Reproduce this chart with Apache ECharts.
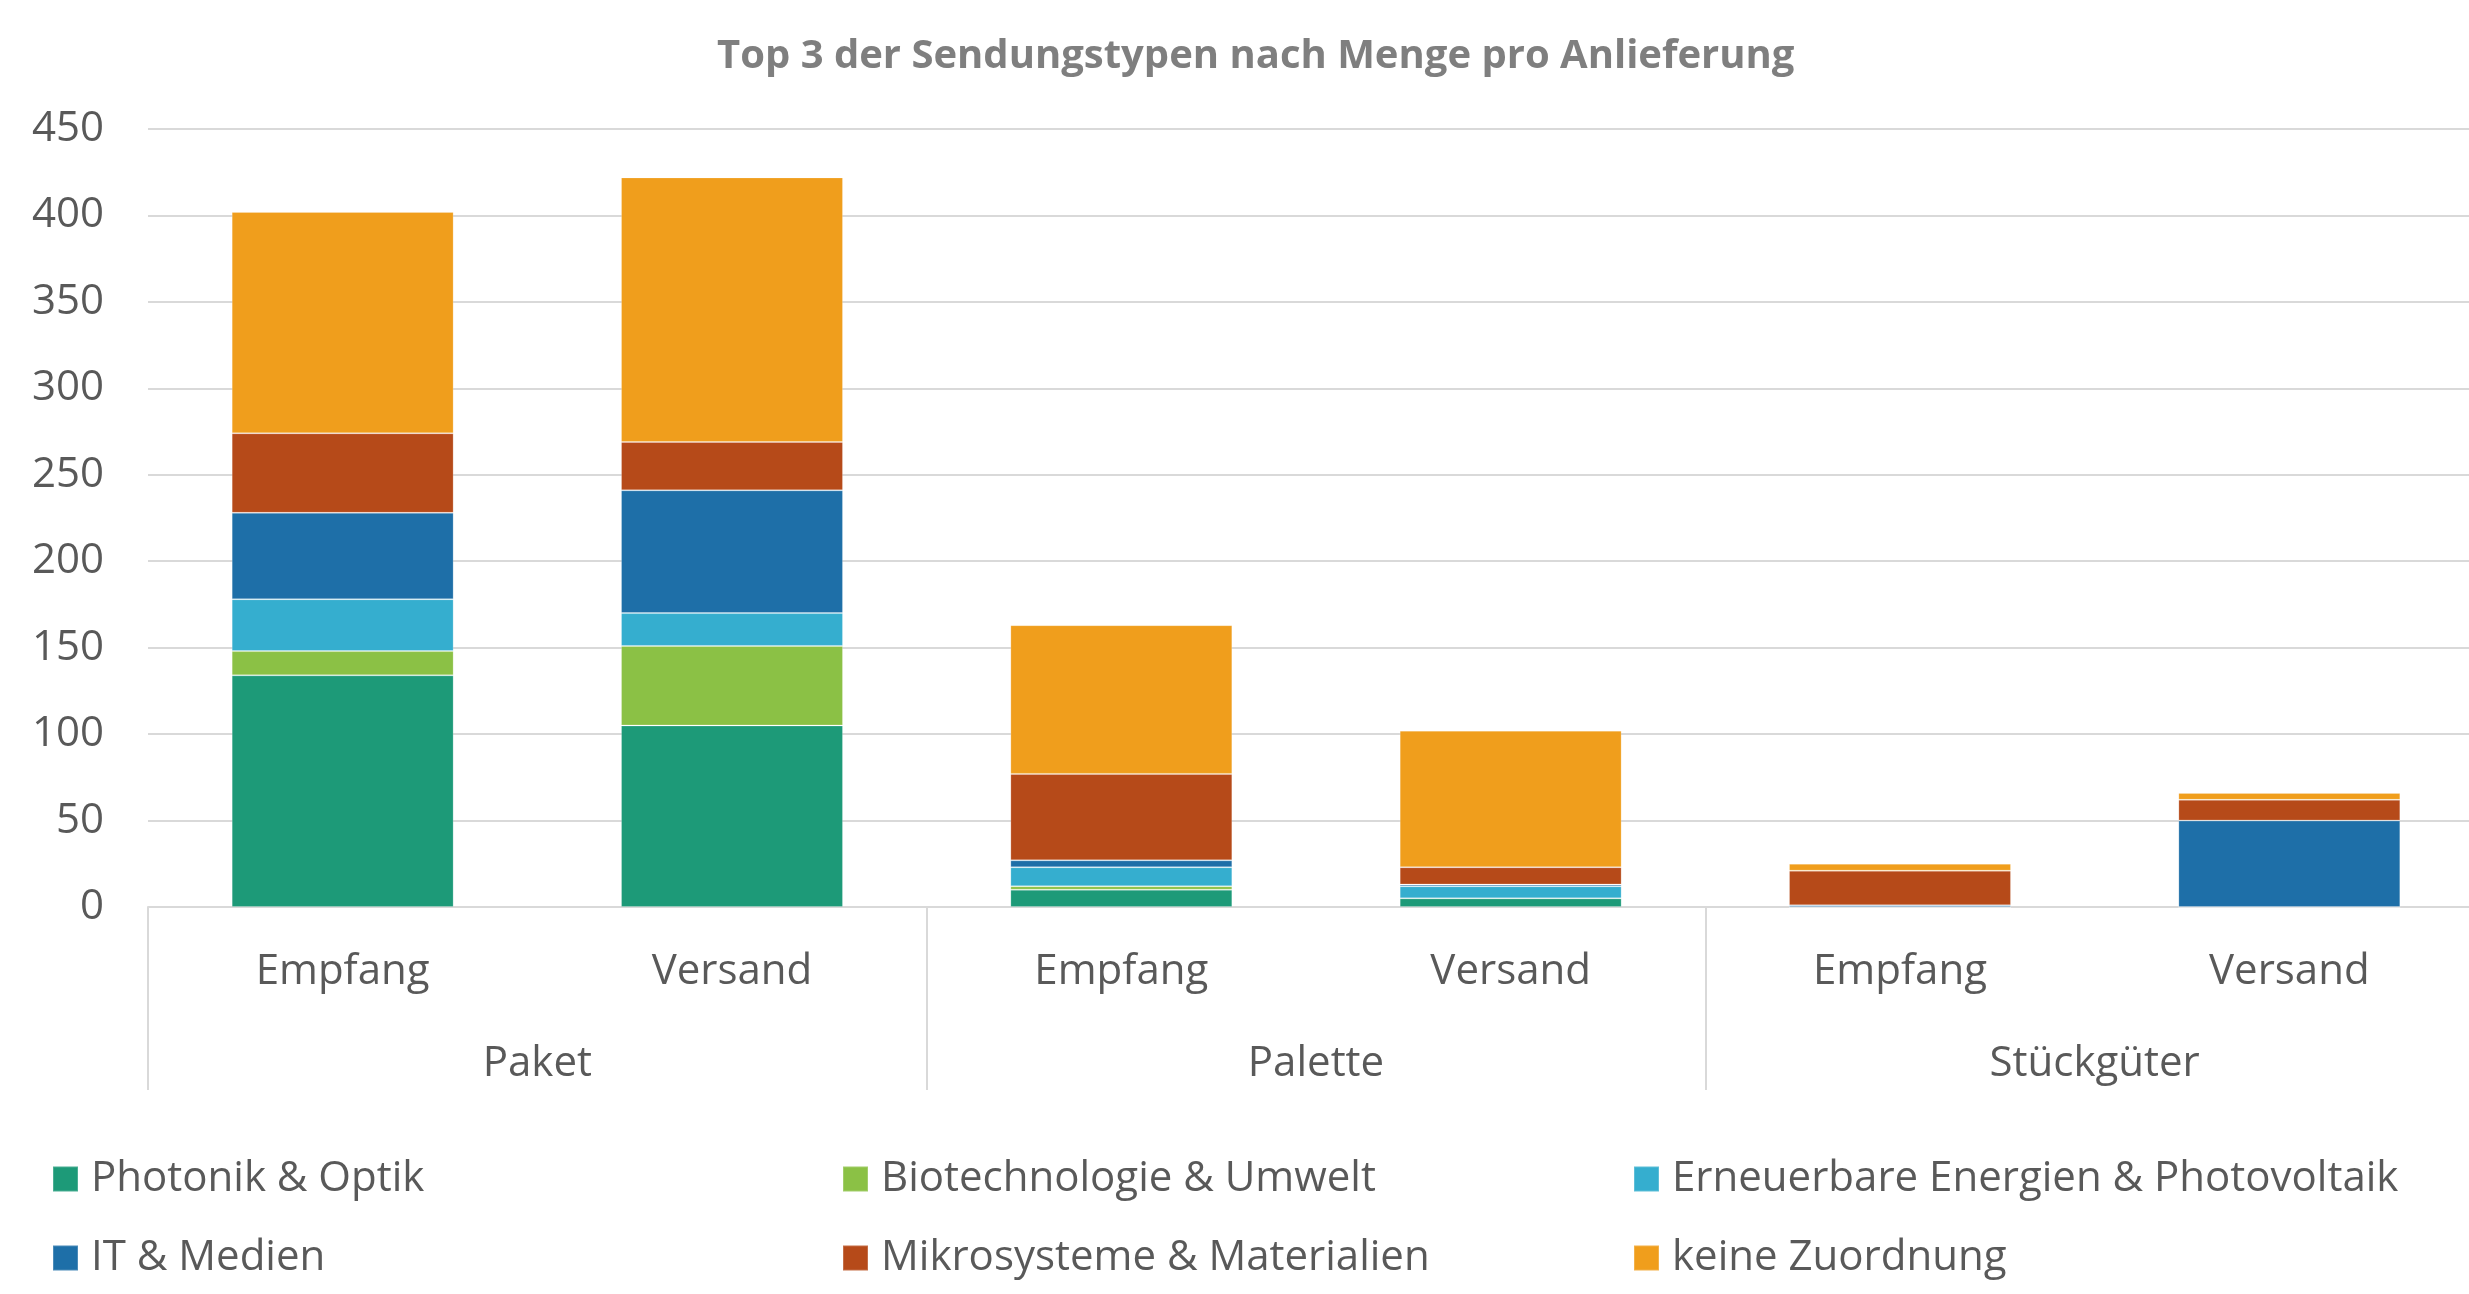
<!DOCTYPE html>
<html>
<head>
<meta charset="utf-8">
<script src="https://cdn.jsdelivr.net/npm/echarts@6/dist/echarts.min.js"></script>
<style>
html,body{margin:0;padding:0;background:#fff;}
#chart{width:2469px;height:1294px;}
</style>
</head>
<body>
<div id="chart"></div>
<script>
const title = 'Top 3 der Sendungstypen nach Menge pro Anlieferung';
const subCategories = ['Empfang', 'Versand', 'Empfang', 'Versand', 'Empfang', 'Versand'];
const groups = ['Paket', 'Palette', 'Stückgüter'];
const seriesNames = ['Photonik & Optik', 'Biotechnologie & Umwelt', 'Erneuerbare Energien & Photovoltaik', 'IT & Medien', 'Mikrosysteme & Materialien', 'keine Zuordnung'];
const photonik = [134, 105, 10, 5, 0, 0];
const biotech = [14, 46, 2, 0, 0, 0];
const erneuerbare = [30, 19, 11, 7, 0, 0];
const itMedien = [50, 71, 4, 1, 1, 50];
const mikro = [46, 28, 50, 10, 20, 12];
const keine = [128, 153, 86, 79, 4, 4];
const yTicks = [0, 50, 100, 150, 200, 250, 300, 350, 400, 450];

const values = [photonik, biotech, erneuerbare, itMedien, mikro, keine];
const colors = ['#1D9A78', '#8BC145', '#35AECF', '#1E6FA8', '#B64A19', '#F09E1C'];
const FONT = "'Open Sans', 'DejaVu Sans', sans-serif";
const labelColor = '#595959';
const gridColor = '#D9D9D9';

const chart = echarts.init(document.getElementById('chart'), null, {renderer: 'canvas'});

const legendPos = [
  [52, 1158], [842, 1158], [1633, 1158],
  [52, 1237], [842, 1237], [1633, 1237]
];

const option = {
  backgroundColor: '#fff',
  animation: false,
  title: {
    text: title,
    left: 717,
    top: 37,
    padding: 0,
    textStyle: {fontFamily: FONT, fontSize: 40, fontWeight: 'bold', color: '#7F7F7F'}
  },
  grid: {left: 148, right: -15, top: 129, bottom: 387, outerBoundsMode: 'none', containLabel: false},
  legend: seriesNames.map((n, i) => ({
    data: [n],
    left: legendPos[i][0],
    top: legendPos[i][1],
    padding: 0,
    icon: 'rect',
    itemWidth: 25,
    itemHeight: 25,
    selectedMode: false,
    textStyle: {fontFamily: FONT, fontSize: 42, color: labelColor, padding: [0, 0, 0, 8]}
  })),
  xAxis: [
    {
      type: 'category',
      data: subCategories,
      position: 'bottom',
      axisLine: {show: true, lineStyle: {color: gridColor, width: 2}},
      axisTick: {show: false},
      axisLabel: {fontFamily: FONT, fontSize: 42, color: labelColor, margin: 44, interval: 0}
    },
    {
      type: 'category',
      data: groups,
      position: 'bottom',
      axisLine: {show: false},
      axisTick: {show: true, length: 183, lineStyle: {color: gridColor, width: 2}},
      axisLabel: {fontFamily: FONT, fontSize: 42, color: labelColor, margin: 136, interval: 0}
    }
  ],
  yAxis: {
    type: 'value',
    min: yTicks[0],
    max: yTicks[yTicks.length - 1],
    interval: yTicks[1] - yTicks[0],
    axisLine: {show: false},
    axisTick: {show: false},
    splitLine: {lineStyle: {color: gridColor, width: 2}},
    axisLabel: {fontFamily: FONT, fontSize: 42, color: labelColor, margin: 44}
  },
  series: seriesNames.map((n, i) => ({
    name: n,
    type: 'bar',
    stack: 'total',
    xAxisIndex: 0,
    data: values[i],
    barWidth: '57%',
    itemStyle: {color: colors[i], borderColor: 'rgba(255,255,255,0.2)', borderWidth: 1}
  })),
  color: colors
};
chart.setOption(option);
</script>
</body>
</html>
